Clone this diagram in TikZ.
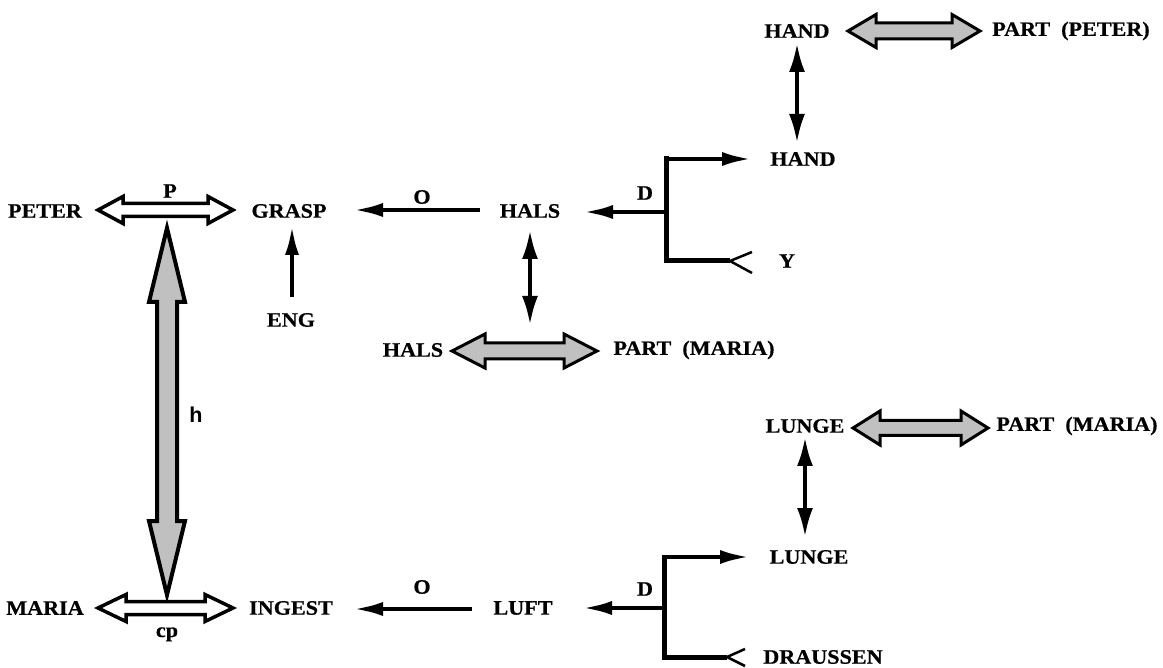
\documentclass[tikz,border=0pt]{standalone}
\usepackage{fontspec}
\setmainfont{Liberation Serif}[FakeStretch=1.08,FakeBold=0.6]
\setsansfont{Liberation Sans}
\usetikzlibrary{arrows.meta,calc}
\definecolor{fatgray}{RGB}{192,192,192}
\tikzset{
  lbl/.style={inner sep=0pt, font=\fontsize{20.5}{23}\selectfont\bfseries},
  arr/.style={line width=4.5pt, -{Latex[length=30pt,width=14pt]}},
  darr/.style={line width=4pt, {Latex[length=29pt,width=16pt]}-{Latex[length=29pt,width=16pt]}},
  tree/.style={line width=5pt, line join=miter},
  forkline/.style={line width=2.5pt, line join=miter},
  hollow/.style={draw=black, line width=3.5pt, fill=white, line join=miter},
  grayfat/.style={draw=black, line width=3pt, fill=fatgray, line join=miter},
}
% horizontal fat double arrow: style, left tip, right tip, shaft half, head half, head length
\newcommand\hfat[6]{%
  \draw[#1] let \p1=(#2), \p2=(#3) in
    (\x1,\y1) -- ({\x1+#6pt},{\y1+#5pt}) -- ({\x1+#6pt},{\y1+#4pt}) -- ({\x2-#6pt},{\y1+#4pt})
    -- ({\x2-#6pt},{\y1+#5pt}) -- (\x2,\y1) -- ({\x2-#6pt},{\y1-#5pt}) -- ({\x2-#6pt},{\y1-#4pt})
    -- ({\x1+#6pt},{\y1-#4pt}) -- ({\x1+#6pt},{\y1-#5pt}) -- cycle;}
% vertical fat double arrow: style, top tip, bottom tip, shaft half, head half, head length
\newcommand\vfat[6]{%
  \draw[#1] let \p1=(#2), \p2=(#3) in
    (\x1,\y1) -- ({\x1+#5pt},{\y1-#6pt}) -- ({\x1+#4pt},{\y1-#6pt}) -- ({\x1+#4pt},{\y2+#6pt})
    -- ({\x1+#5pt},{\y2+#6pt}) -- (\x1,\y2) -- ({\x1-#5pt},{\y2+#6pt}) -- ({\x1-#4pt},{\y2+#6pt})
    -- ({\x1-#4pt},{\y1-#6pt}) -- ({\x1-#5pt},{\y1-#6pt}) -- cycle;}
\begin{document}
\begin{tikzpicture}[x=1pt,y=-1pt]
\useasboundingbox (0,0) rectangle (1163,668);
% nodes
\node[lbl] (peter) at (45,211) {PETER};
\node[lbl] (grasp) at (289,211) {GRASP};
\node[lbl] (eng) at (291,320) {ENG};
\node[lbl] (halsA) at (530,211) {HALS};
\node[lbl] (handB) at (803,159) {HAND};
\node[lbl] (ynode) at (787,261) {Y};
\node[lbl] (handA) at (797,31) {HAND};
\node[lbl] (partPeter) at (1071,31) {PART\ \ (PETER)};
\node[lbl] (halsB) at (413,350) {HALS};
\node[lbl] (partMariaA) at (694,350) {PART\ \ (MARIA)};
\node[lbl] (maria) at (45,608) {MARIA};
\node[lbl] (ingest) at (291,608) {INGEST};
\node[lbl] (luft) at (523,608) {LUFT};
\node[lbl] (lungeB) at (809,557) {LUNGE};
\node[lbl] (draussen) at (823,657) {DRAUSSEN};
\node[lbl] (lungeA) at (805,426) {LUNGE};
\node[lbl] (partMariaB) at (1077,426) {PART\ \ (MARIA)};
% labels
\node[lbl] (lp) at (170,191) {P};
\node[lbl] (lo1) at (422,197) {O};
\node[lbl] (ld1) at (645,193) {D};
\node[lbl] (lo2) at (422,587) {O};
\node[lbl] (ld2) at (645,589) {D};
\node[lbl, anchor=base] (lcp) at (167,637) {cp};
\node[inner sep=0pt, anchor=base, font=\fontsize{21.5}{23}\selectfont\sffamily\bfseries] (lh) at (196,423) {h};
% coordinates
\coordinate (pmid) at ($(peter)!0.5!(grasp)$);
\coordinate (cpmid) at ($(maria)!0.5!(ingest)$);
\coordinate (fork1) at (666,212);
\coordinate (fork2) at (664,608);
% hollow arrows
\hfat{hollow}{$(peter)+(53,-1)$}{$(grasp)+(-56,-1)$}{6.5}{13.5}{25}
\hfat{hollow}{$(maria)+(53,0)$}{$(ingest)+(-58,0)$}{6.5}{13.5}{28}
% big gray vertical arrow
\vfat{grayfat, line width=4pt}{$(pmid)+(0,17)$}{$(cpmid)+(-1,-13)$}{10}{18}{74}
% gray horizontal arrows
\hfat{grayfat}{$(handA)+(51,0)$}{$(partPeter)+(-91,0)$}{8}{16.5}{28}
\hfat{grayfat}{$(halsB)+(39,1)$}{$(partMariaA)+(-97,1)$}{8}{17}{33}
\hfat{grayfat}{$(lungeA)+(48,2)$}{$(partMariaB)+(-89,2)$}{7.5}{17}{27}
% black arrows
\draw[arr] ($(eng)+(1,-23)$) -- ($(eng |- grasp)+(1,14)$);
\draw[arr] ($(halsA)+(-50,-1)$) -- ($(grasp)+(64,-1)$);
\draw[arr] ($(luft)+(-51,1)$) -- ($(ingest)+(62,1)$);
\draw[darr] ($(handA)+(0,12)$) -- ($(handA |- handB)+(0,-16)$);
\draw[darr] ($(halsA)+(0,19)$) -- ($(halsA |- halsB)+(0,-25)$);
\draw[darr] ($(lungeA)+(0,11)$) -- ($(lungeA |- lungeB)+(0,-20)$);
% fork trees
\draw[arr] (fork1) -- ($(halsA)+(53,1)$);
\draw[tree] ($(fork1 |- handB)+(0,-2.5)$) -- (fork1 |- ynode) -- ($(ynode)+(-57,0)$);
\draw[arr] (fork1 |- handB) -- ($(handB)+(-51,0)$);
\draw[forkline] ($(ynode)+(-35,-9)$) -- ($(ynode)+(-57,0)$) -- ($(ynode)+(-35,12)$);
\draw[arr] (fork2) -- ($(luft)+(59,0)$);
\draw[tree] ($(fork2 |- lungeB)+(0,-2.5)$) -- (fork2 |- draussen) -- ($(draussen)+(-96,0)$);
\draw[arr] (fork2 |- lungeB) -- ($(lungeB)+(-59,0)$);
\draw[forkline] ($(draussen)+(-78,-8)$) -- ($(draussen)+(-96,0)$) -- ($(draussen)+(-78,9)$);
\end{tikzpicture}
\end{document}
